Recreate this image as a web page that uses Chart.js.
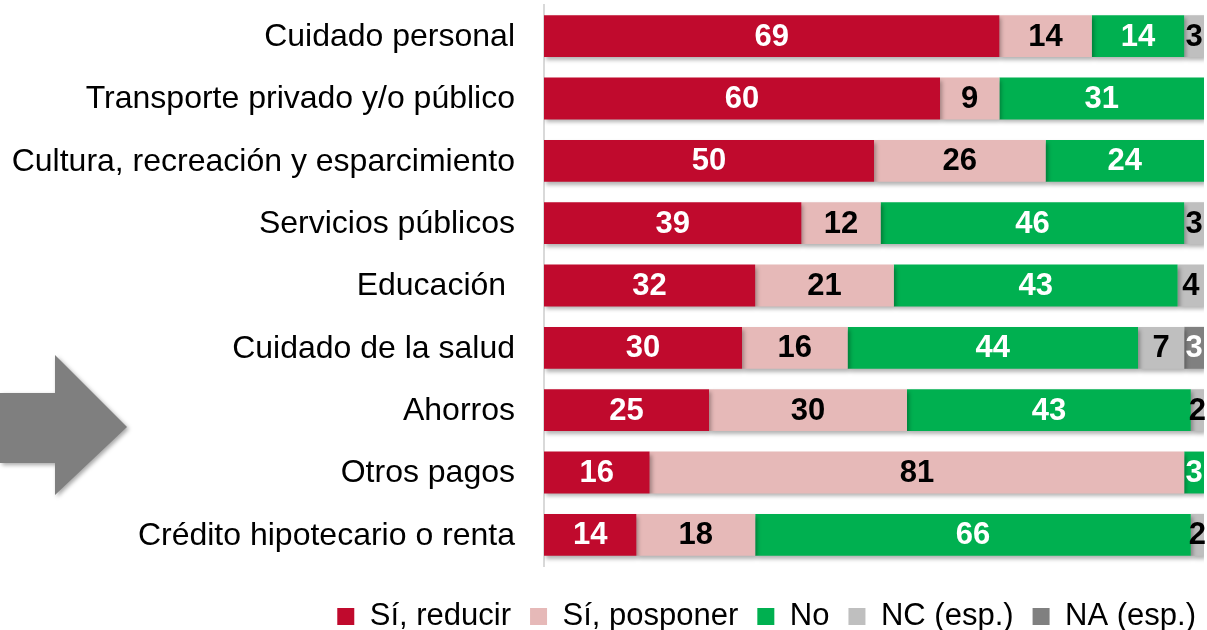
<!DOCTYPE html>
<html>
<head>
<meta charset="utf-8">
<script src="https://cdn.jsdelivr.net/npm/chart.js@4/dist/chart.umd.min.js"></script>
<style>
  html, body { margin: 0; padding: 0; background: #fff; }
  #wrap { position: relative; width: 1207px; height: 630px; }
</style>
</head>
<body>
<div id="wrap"><canvas id="gastosChart" width="1207" height="630"></canvas></div>
<script>
// Datos
const categorias = ['Cuidado personal', 'Transporte privado y/o público', 'Cultura, recreación y esparcimiento',
    'Servicios públicos', 'Educación ', 'Cuidado de la salud', 'Ahorros', 'Otros pagos', 'Crédito hipotecario o renta'];
const siReducir  = [69, 60, 50, 39, 32, 30, 25, 16, 14];
const siPosponer = [14, 9, 26, 12, 21, 16, 30, 81, 18];
const no         = [14, 31, 24, 46, 43, 44, 43, 3, 66];
const ncEsp      = [3, 0, 0, 3, 4, 7, 2, 0, 2];
const naEsp      = [0, 0, 0, 0, 0, 3, 0, 0, 0];

const series = ['Sí, reducir', 'Sí, posponer', 'No', 'NC (esp.)', 'NA (esp.)'];
const colores = ['#C00A2D', '#E6B9B8', '#00B050', '#BFBFBF', '#808080'];
const colorTexto = ['#fff', '#000', '#fff', '#000', '#fff'];

const fuente = '"Liberation Sans", Arial, sans-serif';

// flecha gris, sombras, etiquetas de categorías y valores
const decoracion = {
    id: 'decoracion',
    afterLayout(chart) {
        // colocar la leyenda
        chart.legend.top += 16;
        chart.legend.bottom += 16;
        chart.legend.left += 11;
        chart.legend.right += 11;
    },
    beforeDraw(chart) {
        const c = chart.ctx;
        c.save();
        c.shadowColor = 'rgba(0,0,0,0.35)';
        c.shadowBlur = 4;
        c.shadowOffsetX = 2;
        c.shadowOffsetY = 2;
        c.fillStyle = '#7F7F7F';
        c.beginPath();
        c.moveTo(0, 393);
        c.lineTo(55, 393);
        c.lineTo(55, 355);
        c.lineTo(127, 427);
        c.lineTo(55, 495);
        c.lineTo(55, 463);
        c.lineTo(0, 463);
        c.closePath();
        c.fill();
        c.restore();
    },
    beforeDatasetsDraw(chart) {
        const c = chart.ctx;
        c.save();
        c.shadowColor = 'rgba(0,0,0,0.3)';
        c.shadowBlur = 4;
        c.shadowOffsetX = 2;
        c.shadowOffsetY = 3;
    },
    afterDatasetsDraw(chart) {
        const c = chart.ctx;
        c.restore();
        c.save();
        // categorías
        const y = chart.scales.y;
        c.font = '32px ' + fuente;
        c.fillStyle = '#000';
        c.textAlign = 'right';
        c.textBaseline = 'middle';
        categorias.forEach((cat, i) => {
            c.fillText(cat, y.right - 29, y.getPixelForValue(i) + 1);
        });
        // valores
        c.font = 'bold 31px ' + fuente;
        c.textAlign = 'center';
        chart.data.datasets.forEach((ds, i) => {
            const meta = chart.getDatasetMeta(i);
            meta.data.forEach((bar, j) => {
                const v = ds.data[j];
                if (!v) return;
                const p = bar.getProps(['x', 'y', 'base'], true);
                c.fillStyle = colorTexto[i];
                c.fillText(v, (p.x + p.base) / 2, p.y + 1);
            });
        });
        c.restore();
    }
};

const datos = [siReducir, siPosponer, no, ncEsp, naEsp];

new Chart(document.getElementById('gastosChart').getContext('2d'), {
    type: 'bar',
    data: {
        labels: categorias,
        datasets: series.map((s, i) => ({
            label: s,
            data: datos[i],
            backgroundColor: colores[i],
            borderWidth: 0,
            barPercentage: 0.82,
            categoryPercentage: 0.82
        }))
    },
    options: {
        indexAxis: 'y',
        responsive: false,
        animation: false,
        layout: { padding: { top: 5, right: 3, bottom: 4, left: 0 } },
        scales: {
            x: {
                stacked: true,
                min: 0,
                max: 100,
                display: false
            },
            y: {
                stacked: true,
                grid: { display: false, drawTicks: false },
                border: { display: true, color: '#D9D9D9', width: 2 },
                ticks: { display: false },
                afterFit(scale) { scale.width = 544; }
            }
        },
        plugins: {
            tooltip: { enabled: false },
            legend: {
                position: 'bottom',
                align: 'end',
                labels: {
                    color: '#000',
                    boxWidth: 17,
                    boxHeight: 17,
                    padding: 19,
                    font: { family: fuente, size: 31 }
                }
            }
        }
    },
    plugins: [decoracion]
});
</script>
</body>
</html>
